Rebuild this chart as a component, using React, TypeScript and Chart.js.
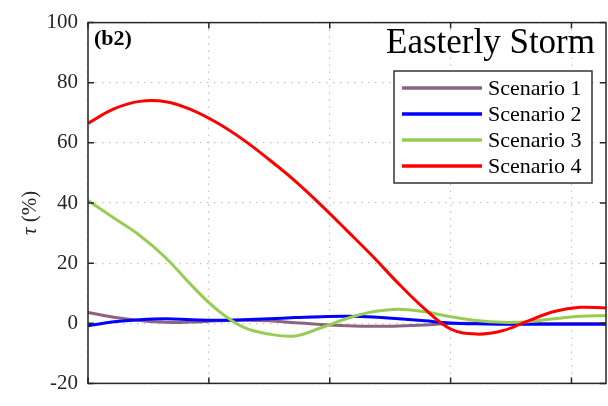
import React, { useEffect, useRef } from "react";
import { Chart, registerables } from "chart.js";

Chart.register(...registerables);

const xValues = [0, 1.5, 3, 4.5, 6, 7.5, 9, 10.5, 12, 13.5, 15, 16.5, 18, 19.5, 21, 22.5, 24, 25.5, 27, 28.5, 30];
const scenario1 = [3.6, 2.0, 0.9, 0.3, 0.4, 0.8, 1.0, 0.8, 0.2, -0.4, -0.8, -1.0, -0.9, -0.6, -0.1, 0.0, 0.0, 0.0, -0.1, -0.1, -0.1];
const scenario2 = [-0.8, 0.5, 1.2, 1.5, 1.2, 1.0, 1.2, 1.5, 1.9, 2.2, 2.3, 2.1, 1.5, 0.8, 0.1, -0.2, -0.3, -0.3, -0.3, -0.3, -0.3];
const scenario3 = [40.8, 35.0, 29.2, 21.8, 12.6, 4.4, -1.3, -3.6, -4.2, -1.5, 1.6, 3.8, 4.7, 3.8, 2.2, 0.9, 0.3, 0.5, 1.5, 2.3, 2.6];
const scenario4 = [66.5, 71.3, 73.8, 73.7, 71.0, 66.6, 61.0, 54.4, 47.3, 39.3, 30.8, 22.2, 13.1, 4.8, -1.9, -3.6, -2.5, 0.8, 3.9, 5.3, 5.1];

const seriesLabels = ["Scenario 1", "Scenario 2", "Scenario 3", "Scenario 4"];
const seriesColors = ["#8c6482", "#0000ff", "#99cc55", "#ff0000"];
const seriesValues = [scenario1, scenario2, scenario3, scenario4];

const yTicks = [-20, 0, 20, 40, 60, 80, 100];
const xTicks = [0, 7, 14, 21, 28];

const titleText = "Easterly Storm";
const panelText = "(b2)";

const AXIS = "#262626";
const SERIF = "'Liberation Serif', 'DejaVu Serif', serif";

const decorPlugin = {
  id: "decor",
  afterDatasetsDraw(chart: any) {
    const { ctx, chartArea } = chart;
    const { left, right, top, bottom } = chartArea;
    const xs = chart.scales.x;
    const ys = chart.scales.y;
    ctx.save();
    ctx.strokeStyle = AXIS;
    ctx.lineWidth = 1.5;
    ctx.strokeRect(left, top, right - left, bottom - top);
    const tl = 6;
    ctx.beginPath();
    yTicks.forEach((v) => {
      const y = ys.getPixelForValue(v);
      ctx.moveTo(left, y);
      ctx.lineTo(left + tl, y);
      ctx.moveTo(right, y);
      ctx.lineTo(right - tl, y);
    });
    xTicks.forEach((v) => {
      const x = xs.getPixelForValue(v);
      ctx.moveTo(x, bottom);
      ctx.lineTo(x, bottom - tl);
      ctx.moveTo(x, top);
      ctx.lineTo(x, top + tl);
    });
    ctx.stroke();

    ctx.fillStyle = "#000";
    ctx.font = `bold 22px ${SERIF}`;
    ctx.textAlign = "left";
    ctx.textBaseline = "alphabetic";
    ctx.fillText(panelText, left + 6, top + 22);

    ctx.font = `35px ${SERIF}`;
    ctx.textAlign = "right";
    ctx.fillText(titleText, 595, 53);

    const lx = 394, ly = 71, lw = 198, lh = 112;
    ctx.fillStyle = "#fff";
    ctx.fillRect(lx, ly, lw, lh);
    ctx.strokeStyle = "#333";
    ctx.lineWidth = 1.5;
    ctx.strokeRect(lx, ly, lw, lh);
    chart.data.datasets.forEach((ds: any, i: number) => {
      const y = 88 + i * 26;
      ctx.strokeStyle = ds.borderColor;
      ctx.lineWidth = 3.5;
      ctx.beginPath();
      ctx.moveTo(402, y);
      ctx.lineTo(482, y);
      ctx.stroke();
      ctx.fillStyle = "#000";
      ctx.font = `22px ${SERIF}`;
      ctx.textAlign = "left";
      ctx.textBaseline = "middle";
      ctx.fillText(ds.label, 488, y + 1);
    });

    ctx.save();
    ctx.translate(30, 213);
    ctx.rotate(-Math.PI / 2);
    ctx.fillStyle = AXIS;
    ctx.textBaseline = "middle";
    const tau = "τ";
    const rest = " (%)";
    ctx.font = `21px ${SERIF}`;
    const wRest = ctx.measureText(rest).width;
    ctx.font = `italic 21px ${SERIF}`;
    const wTau = ctx.measureText(tau).width;
    const total = wTau + wRest;
    ctx.textAlign = "left";
    ctx.fillText(tau, -total / 2, 0);
    ctx.font = `21px ${SERIF}`;
    ctx.fillText(rest, -total / 2 + wTau, 0);
    ctx.restore();

    ctx.restore();
  },
};

export default function App() {
  const ref = useRef<HTMLCanvasElement | null>(null);
  useEffect(() => {
    if (!ref.current) return;
    const datasets = seriesValues.map((vals, i) => ({
      label: seriesLabels[i],
      data: vals.map((v, j) => ({ x: xValues[j], y: v })),
      borderColor: seriesColors[i],
      backgroundColor: seriesColors[i],
      borderWidth: 3,
      pointRadius: 0,
      tension: 0.4,
      fill: false,
      order: seriesValues.length - i,
    }));
    const chart = new Chart(ref.current, {
      type: "line",
      data: { datasets },
      options: {
        responsive: false,
        animation: false,
        layout: { padding: { top: 19, right: 2, bottom: 9, left: 0 } },
        plugins: { legend: { display: false }, tooltip: { enabled: false } },
        scales: {
          x: {
            type: "linear",
            min: 0,
            max: 30,
            afterBuildTicks: (scale: any) => {
              scale.ticks = xTicks.map((v) => ({ value: v }));
            },
            ticks: { display: false },
            border: { display: false, dash: [1.5, 5.5] },
            grid: { drawTicks: false, color: "#c4c4c4", lineWidth: 1.2 },
            afterFit: (scale: any) => {
              scale.height = 0;
            },
          },
          y: {
            min: -20,
            max: 100,
            afterBuildTicks: (scale: any) => {
              scale.ticks = yTicks.map((v) => ({ value: v }));
            },
            ticks: {
              color: AXIS,
              font: { family: SERIF, size: 21 },
              padding: 10,
            },
            border: { display: false, dash: [1.5, 5.5] },
            grid: { drawTicks: false, color: "#c4c4c4", lineWidth: 1.2 },
            afterFit: (scale: any) => {
              scale.width = 88;
            },
          },
        },
      },
      plugins: [decorPlugin],
    } as any);
    return () => chart.destroy();
  }, []);
  return (
    <div style={{ position: "fixed", left: 0, top: 0, width: 608, height: 406, background: "#fff" }}>
      <canvas ref={ref} width={608} height={406} style={{ width: 608, height: 406 }} />
    </div>
  );
}
